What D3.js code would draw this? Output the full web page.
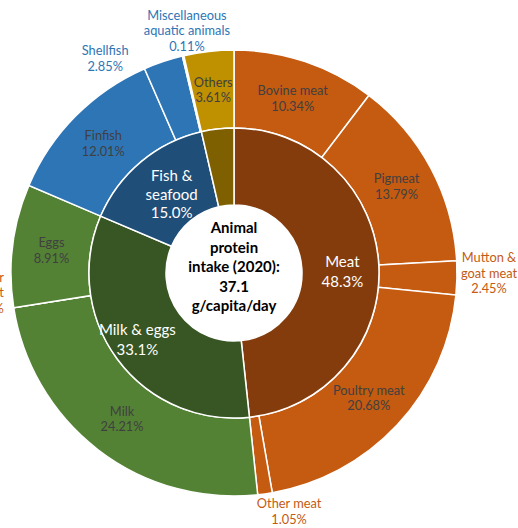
<!DOCTYPE html>
<html>
<head>
<meta charset="utf-8">
<script src="https://cdn.jsdelivr.net/npm/d3@7"></script>
<style>
  body { margin: 0; background: #fff; }
  svg { display: block; font-family: Lato, "Open Sans", sans-serif; }
</style>
</head>
<body>
<div id="chart"></div>
<script>
// data (percent of animal protein intake, 2020)
var groupNames = ["Meat", "Milk & eggs", "Fish & seafood", "Others"];
var itemNames = ["Bovine meat", "Pigmeat", "Mutton & goat meat", "Poultry meat", "Other meat",
                 "Milk", "Butter and fat", "Eggs",
                 "Finfish", "Shellfish", "Miscellaneous aquatic animals",
                 "Others"];
var itemGroup = [0, 0, 0, 0, 0, 1, 1, 1, 2, 2, 2, 3];
var itemShare = [10.34, 13.79, 2.45, 20.68, 1.05, 24.21, 0.00, 8.91, 12.01, 2.85, 0.11, 3.61];
var centerLines = ["Animal", "protein", "intake (2020):", "37.1", "g/capita/day"];

var width = 518, height = 528;
var cx = 234, cy = 273;
var r0 = 68, r1 = 145, r2 = 223;

var innerColors = ["#843C0C", "#375623", "#1F4E79", "#7F6000"];
var outerColors = ["#C55A11", "#548235", "#2E75B6", "#BF9000"];

// how labels wrap
var wrap = {
  "Mutton & goat meat": ["Mutton &", "goat meat"],
  "Miscellaneous aquatic animals": ["Miscellaneous", "aquatic animals"],
  "Butter and fat": ["Butter", "and fat"],
  "Fish & seafood": ["Fish &", "seafood"]
};
// labels outside the ring: [angle nudge in degrees, radius, anchor, colour]
var outside = {
  "Mutton & goat meat": [-1.2, 255, "middle", "#C55A11"],
  "Other meat": [-5, 245, "middle", "#C55A11"],
  "Butter and fat": [4, 231, "end", "#C55A11"],
  "Shellfish": [-12.5, 250, "middle", "#2E75B6"],
  "Miscellaneous aquatic animals": [2.2, 247, "middle", "#2E75B6"]
};
// small shifts of the inner labels, as Excel placed them
var innerNudge = [[2, 4], [-11, 3], [6, 3]];

var groupShare = groupNames.map(function(g, i) {
  return d3.sum(itemShare.filter(function(v, j) { return itemGroup[j] === i; }));
});

var svg = d3.select("#chart").append("svg")
    .attr("width", width)
    .attr("height", height);

var g = svg.append("g").attr("transform", "translate(" + cx + "," + cy + ")");

var pie = d3.pie().sort(null).value(function(d) { return d; });
var innerArcs = pie(groupShare);
var outerArcs = pie(itemShare);

var innerArc = d3.arc().innerRadius(r0).outerRadius(r1);
var outerArc = d3.arc().innerRadius(r1).outerRadius(r2);

g.append("g").selectAll("path")
    .data(outerArcs)
  .enter().append("path")
    .attr("d", outerArc)
    .attr("fill", function(d, i) { return outerColors[itemGroup[i]]; })
    .attr("stroke", "#fff")
    .attr("stroke-width", 1.5);

g.append("g").selectAll("path")
    .data(innerArcs)
  .enter().append("path")
    .attr("d", innerArc)
    .attr("fill", function(d, i) { return innerColors[i]; })
    .attr("stroke", "#fff")
    .attr("stroke-width", 1.5);

function addLines(sel, lines, lh) {
  var top = -(lines.length - 1) * lh / 2;
  lines.forEach(function(t, k) {
    sel.append("tspan")
        .attr("x", 0)
        .attr("y", top + k * lh)
        .attr("dy", "0.35em")
        .text(t);
  });
}

// outer labels
outerArcs.forEach(function(d, i) {
  var name = itemNames[i];
  var lines = (wrap[name] || [name]).concat([itemShare[i].toFixed(2) + "%"]);
  var pos, anchor = "middle", color = "#404040";
  if (outside[name]) {
    var o = outside[name];
    var a = (d.startAngle + d.endAngle) / 2 + o[0] * Math.PI / 180;
    pos = [o[1] * Math.sin(a), -o[1] * Math.cos(a)];
    anchor = o[2];
    color = o[3];
  } else {
    pos = outerArc.centroid(d);
  }
  var t = g.append("text")
      .attr("transform", "translate(" + pos[0] + "," + pos[1] + ")")
      .attr("text-anchor", anchor)
      .attr("font-size", 12.8)
      .attr("fill", color);
  addLines(t, lines, 15.5);
});

// inner labels (the small "Others" wedge has none)
innerArcs.forEach(function(d, i) {
  if (i === 3) return;
  var name = groupNames[i];
  var lines = (wrap[name] || [name]).concat([groupShare[i].toFixed(1) + "%"]);
  var pos = innerArc.centroid(d);
  var t = g.append("text")
      .attr("transform", "translate(" + (pos[0] + innerNudge[i][0]) + "," + (pos[1] + innerNudge[i][1]) + ")")
      .attr("text-anchor", "middle")
      .attr("font-size", 15)
      .attr("fill", "#fff");
  addLines(t, lines, i === 2 ? 18.5 : 20);
});

// center
var c = g.append("text")
    .attr("transform", "translate(0,-6)")
    .attr("text-anchor", "middle")
    .attr("font-size", 15)
    .attr("font-weight", "bold")
    .attr("fill", "#000");
addLines(c, centerLines, 19.6);
</script>
</body>
</html>
